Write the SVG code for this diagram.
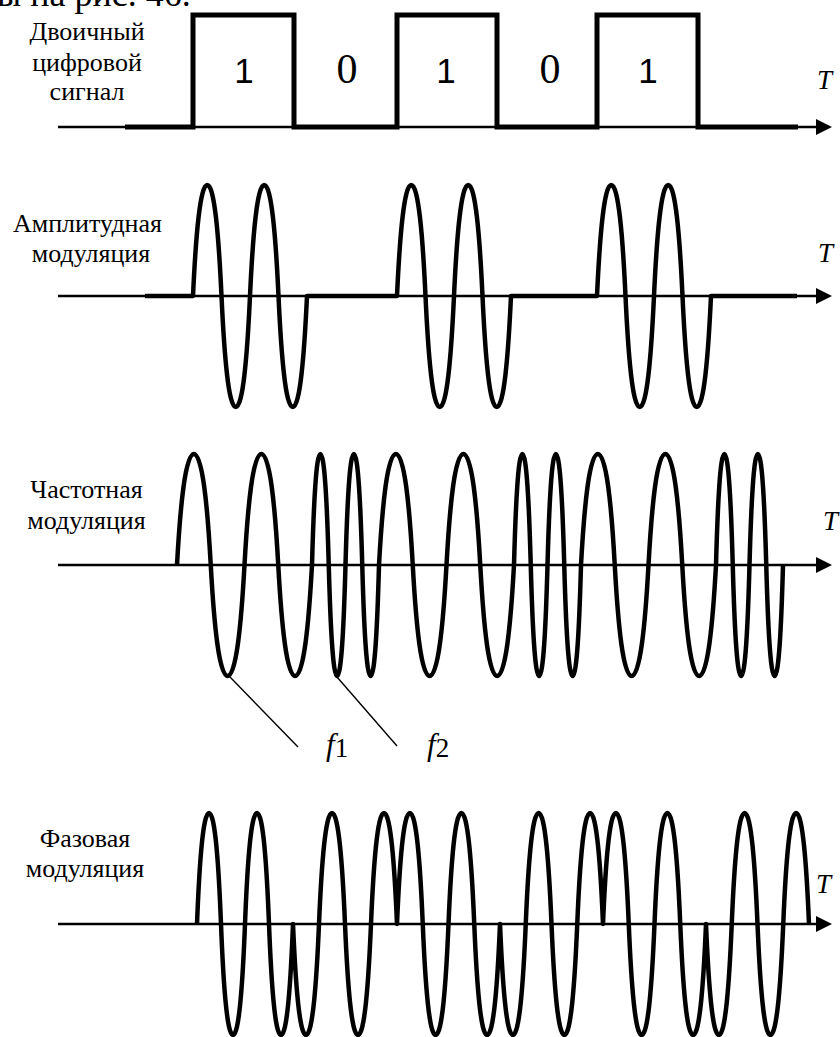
<svg xmlns="http://www.w3.org/2000/svg" width="840" height="1037" viewBox="0 0 840 1037">
<style>
.lbl{font-family:"Liberation Serif","Times New Roman",serif;font-size:26px;fill:#000;text-anchor:middle}
.t{font-family:"Liberation Serif","Times New Roman",serif;font-style:italic;font-size:27px;fill:#000}
.axis{fill:none;stroke:#000;stroke-width:2.6}
.sig{fill:none;stroke:#000;stroke-width:4.5;stroke-linejoin:round}
.dig{fill:none;stroke:#000;stroke-width:5;stroke-linejoin:miter}
.lead{fill:none;stroke:#000;stroke-width:1.4}
.one{font-family:"Liberation Sans",Arial,sans-serif;font-size:35px;fill:#000;text-anchor:middle}
.zero{font-family:"Liberation Serif","Times New Roman",serif;font-size:42px;fill:#000;text-anchor:middle}
.f{font-family:"Liberation Serif","Times New Roman",serif;font-style:italic;font-size:31px;fill:#000}
.sub{font-family:"Liberation Serif","Times New Roman",serif;font-size:27px;fill:#000}
.top{font-family:"Liberation Serif","Times New Roman",serif;font-size:36px;fill:#000}
</style>
<defs>
<marker id="arr" markerUnits="userSpaceOnUse" markerWidth="16" markerHeight="16" viewBox="0 0 16 16" refX="0" refY="8" orient="auto">
<path d="M0,0 L16,8 L0,16 z" fill="#000"/>
</marker>
</defs>
<rect width="840" height="1037" fill="#fff"/>
<text class="top" x="-3" y="6">ы на рис. 46.</text>

<g id="digital">
<line class="axis" x1="58" y1="127" x2="816" y2="127" marker-end="url(#arr)"/>
<path class="dig" d="M125,127 H193 V15 H294 V127 H397 V15 H497 V127 H597 V15 H698 V127 H798"/>
<text class="one" x="244" y="83">1</text>
<text class="zero" x="347" y="83">0</text>
<text class="one" x="446" y="83">1</text>
<text class="zero" x="550" y="83">0</text>
<text class="one" x="648" y="83">1</text>
<text class="t" x="817" y="89">T</text>
<text class="lbl" x="87" y="40">Двоичный</text>
<text class="lbl" x="87" y="70.5">цифровой</text>
<text class="lbl" x="87" y="100">сигнал</text>
</g>

<g id="am">
<line class="axis" x1="58" y1="296" x2="816" y2="296" marker-end="url(#arr)"/>
<path class="sig" d="M145,296 H193
c2.85,-61.05 7.125,-111 14.25,-111 c7.125,0 11.4,49.95 14.25,111 c2.85,61.05 7.125,111 14.25,111 c7.125,0 11.4,-49.95 14.25,-111
c2.85,-61.05 7.125,-111 14.25,-111 c7.125,0 11.4,49.95 14.25,111 c2.85,61.05 7.125,111 14.25,111 c7.125,0 11.4,-49.95 14.25,-111
H397
c2.85,-61.05 7.125,-111 14.25,-111 c7.125,0 11.4,49.95 14.25,111 c2.85,61.05 7.125,111 14.25,111 c7.125,0 11.4,-49.95 14.25,-111
c2.85,-61.05 7.125,-111 14.25,-111 c7.125,0 11.4,49.95 14.25,111 c2.85,61.05 7.125,111 14.25,111 c7.125,0 11.4,-49.95 14.25,-111
H597
c2.85,-61.05 7.125,-111 14.25,-111 c7.125,0 11.4,49.95 14.25,111 c2.85,61.05 7.125,111 14.25,111 c7.125,0 11.4,-49.95 14.25,-111
c2.85,-61.05 7.125,-111 14.25,-111 c7.125,0 11.4,49.95 14.25,111 c2.85,61.05 7.125,111 14.25,111 c7.125,0 11.4,-49.95 14.25,-111
H797"/>
<text class="t" x="818" y="262">T</text>
<text class="lbl" x="87.5" y="232">Амплитудная</text>
<text class="lbl" x="91" y="262">модуляция</text>
</g>

<g id="fm">
<line class="axis" x1="58" y1="565" x2="816" y2="565" marker-end="url(#arr)"/>
<path class="sig" d="M177,565
c3.375,-61.05 8.4375,-111 16.875,-111 c8.4375,0 13.5,49.95 16.875,111 c3.375,61.05 8.4375,111 16.875,111 c8.4375,0 13.5,-49.95 16.875,-111
c3.375,-61.05 8.4375,-111 16.875,-111 c8.4375,0 13.5,49.95 16.875,111 c3.375,61.05 8.4375,111 16.875,111 c8.4375,0 13.5,-49.95 16.875,-111
c1.675,-61.05 4.1875,-111 8.375,-111 c4.1875,0 6.7,49.95 8.375,111 c1.675,61.05 4.1875,111 8.375,111 c4.1875,0 6.7,-49.95 8.375,-111
c1.675,-61.05 4.1875,-111 8.375,-111 c4.1875,0 6.7,49.95 8.375,111 c1.675,61.05 4.1875,111 8.375,111 c4.1875,0 6.7,-49.95 8.375,-111
c3.375,-61.05 8.4375,-111 16.875,-111 c8.4375,0 13.5,49.95 16.875,111 c3.375,61.05 8.4375,111 16.875,111 c8.4375,0 13.5,-49.95 16.875,-111
c3.375,-61.05 8.4375,-111 16.875,-111 c8.4375,0 13.5,49.95 16.875,111 c3.375,61.05 8.4375,111 16.875,111 c8.4375,0 13.5,-49.95 16.875,-111
c1.675,-61.05 4.1875,-111 8.375,-111 c4.1875,0 6.7,49.95 8.375,111 c1.675,61.05 4.1875,111 8.375,111 c4.1875,0 6.7,-49.95 8.375,-111
c1.675,-61.05 4.1875,-111 8.375,-111 c4.1875,0 6.7,49.95 8.375,111 c1.675,61.05 4.1875,111 8.375,111 c4.1875,0 6.7,-49.95 8.375,-111
c3.375,-61.05 8.4375,-111 16.875,-111 c8.4375,0 13.5,49.95 16.875,111 c3.375,61.05 8.4375,111 16.875,111 c8.4375,0 13.5,-49.95 16.875,-111
c3.375,-61.05 8.4375,-111 16.875,-111 c8.4375,0 13.5,49.95 16.875,111 c3.375,61.05 8.4375,111 16.875,111 c8.4375,0 13.5,-49.95 16.875,-111
c1.675,-61.05 4.1875,-111 8.375,-111 c4.1875,0 6.7,49.95 8.375,111 c1.675,61.05 4.1875,111 8.375,111 c4.1875,0 6.7,-49.95 8.375,-111
c1.675,-61.05 4.1875,-111 8.375,-111 c4.1875,0 6.7,49.95 8.375,111 c1.675,61.05 4.1875,111 8.375,111 c4.1875,0 6.7,-49.95 8.375,-111"/>
<text class="t" x="823" y="530">T</text>
<text class="lbl" x="86.5" y="498">Частотная</text>
<text class="lbl" x="86.5" y="529">модуляция</text>
<line class="lead" x1="230" y1="677" x2="298" y2="747"/>
<line class="lead" x1="337" y1="677" x2="397" y2="746"/>
<text x="326" y="755"><tspan class="f">f</tspan><tspan class="sub" dy="2">1</tspan></text>
<text x="427" y="755"><tspan class="f">f</tspan><tspan class="sub" dy="2">2</tspan></text>
</g>

<g id="pm">
<line class="axis" x1="58" y1="924" x2="816" y2="924" marker-end="url(#arr)"/>
<path class="sig" d="M197,924
c2.4,-61.05 6,-111 12,-111 c6,0 9.6,49.95 12,111 c2.4,61.05 6,111 12,111 c6,0 9.6,-49.95 12,-111
c2.4,-61.05 6,-111 12,-111 c6,0 9.6,49.95 12,111 c2.4,61.05 6,111 12,111 c6,0 9.6,-49.95 12,-111
c2.6,61.05 6.5,111 13,111 c6.5,0 10.4,-49.95 13,-111 c2.6,-61.05 6.5,-111 13,-111 c6.5,0 10.4,49.95 13,111
c2.6,61.05 6.5,111 13,111 c6.5,0 10.4,-49.95 13,-111 c2.6,-61.05 6.5,-111 13,-111 c6.5,0 10.4,49.95 13,111
c2.575,-61.05 6.4375,-111 12.875,-111 c6.4375,0 10.3,49.95 12.875,111 c2.575,61.05 6.4375,111 12.875,111 c6.4375,0 10.3,-49.95 12.875,-111
c2.575,-61.05 6.4375,-111 12.875,-111 c6.4375,0 10.3,49.95 12.875,111 c2.575,61.05 6.4375,111 12.875,111 c6.4375,0 10.3,-49.95 12.875,-111
c2.575,61.05 6.4375,111 12.875,111 c6.4375,0 10.3,-49.95 12.875,-111 c2.575,-61.05 6.4375,-111 12.875,-111 c6.4375,0 10.3,49.95 12.875,111
c2.575,61.05 6.4375,111 12.875,111 c6.4375,0 10.3,-49.95 12.875,-111 c2.575,-61.05 6.4375,-111 12.875,-111 c6.4375,0 10.3,49.95 12.875,111
c2.575,-61.05 6.4375,-111 12.875,-111 c6.4375,0 10.3,49.95 12.875,111 c2.575,61.05 6.4375,111 12.875,111 c6.4375,0 10.3,-49.95 12.875,-111
c2.575,-61.05 6.4375,-111 12.875,-111 c6.4375,0 10.3,49.95 12.875,111 c2.575,61.05 6.4375,111 12.875,111 c6.4375,0 10.3,-49.95 12.875,-111
c2.575,61.05 6.4375,111 12.875,111 c6.4375,0 10.3,-49.95 12.875,-111 c2.575,-61.05 6.4375,-111 12.875,-111 c6.4375,0 10.3,49.95 12.875,111
c2.575,61.05 6.4375,111 12.875,111 c6.4375,0 10.3,-49.95 12.875,-111 c2.575,-61.05 6.4375,-111 12.875,-111 c6.4375,0 10.3,49.95 12.875,111"/>
<text class="t" x="816" y="893">T</text>
<text class="lbl" x="85" y="847">Фазовая</text>
<text class="lbl" x="85" y="877">модуляция</text>
</g>
</svg>
